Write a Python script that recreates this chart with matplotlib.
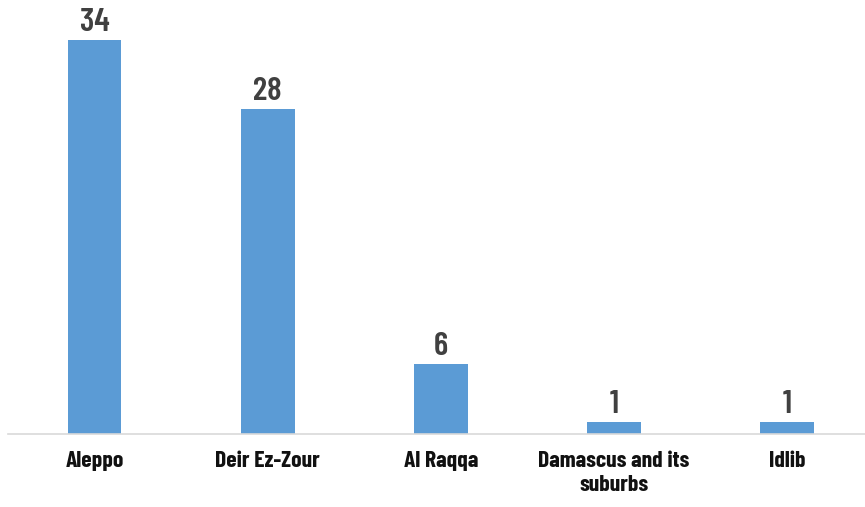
import matplotlib
matplotlib.use('Agg')
import matplotlib.pyplot as plt

plt.rcParams['font.family'] = ['Barlow Condensed', 'DejaVu Sans']

regions = ['Aleppo', 'Deir Ez-Zour', 'Al Raqqa', 'Damascus and its\nsuburbs', 'Idlib']
counts = [34, 28, 6, 1, 1]

fig = plt.figure(figsize=(8.65, 5.07), dpi=100)
ax = fig.add_axes([8 / 865, 73 / 507, 857 / 865, 1 - 73 / 507 - 5 / 507])

x = range(len(regions))
ax.bar(x, counts, width=0.31, color='#5B9BD5', zorder=2)
for xi, v in zip(x, counts):
    ax.text(xi, v + 0.8, str(v), ha='center', va='baseline', fontsize=24,
            fontweight=600, color='#404040')

ax.set_xlim(-0.5, 4.45)
ax.set_ylim(0, 37)
ax.set_xticks(list(x))
ax.set_xticklabels(regions, fontsize=17, fontweight='bold', color='#111111', linespacing=1.25)
ax.tick_params(axis='x', length=0, pad=12)
ax.set_yticks([])
for s in ['top', 'right', 'left']:
    ax.spines[s].set_visible(False)
ax.spines['bottom'].set_color('#d9d9d9')
ax.spines['bottom'].set_linewidth(1.2)

fig.savefig('out.png', dpi=100)
